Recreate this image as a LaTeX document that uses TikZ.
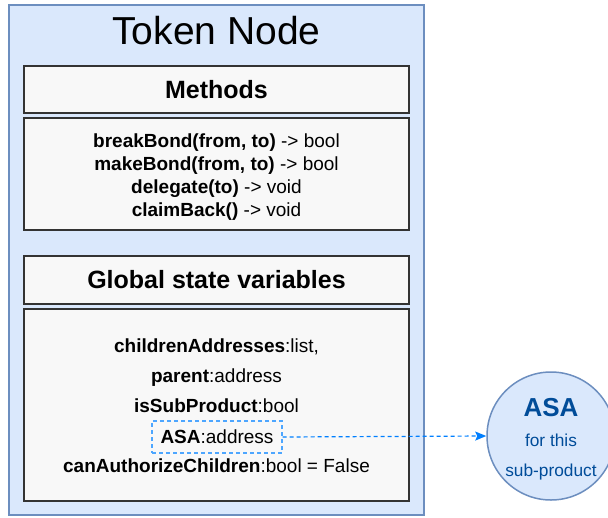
\documentclass[tikz,border=0pt]{standalone}
\usepackage{fontspec}
\setmainfont{Liberation Sans}
\usetikzlibrary{arrows.meta}
\definecolor{outerfill}{HTML}{DAE8FC}
\definecolor{outerdraw}{HTML}{6C8EBF}
\definecolor{boxfill}{HTML}{F8F8F8}
\definecolor{boxdraw}{HTML}{333333}
\definecolor{linkblue}{HTML}{007FFF}
\definecolor{dashblue}{HTML}{4DA6FF}
\definecolor{asatext}{HTML}{004C99}
\tikzset{
  outerbox/.style={draw=outerdraw, fill=outerfill, line width=1.5pt},
  innerbox/.style={draw=boxdraw, fill=boxfill, line width=1.5pt},
  bodytext/.style={anchor=base, font=\fontsize{19}{22}\selectfont, inner sep=0pt},
  headtext/.style={anchor=base, font=\fontsize{25}{28}\selectfont\bfseries, inner sep=0pt},
  linkline/.style={draw=linkblue, line width=1.2pt, dash pattern=on 4pt off 3pt},
}
\begin{document}
\begin{tikzpicture}[x=1pt, y=-1pt]
\useasboundingbox (0,0) rectangle (608,517);
\clip (0,0) rectangle (608,517);
% outer container
\draw[outerbox] (9,5) rectangle (424,515);
\node[anchor=base, inner sep=0pt, font=\fontsize{39}{44}\selectfont] (title) at (216.5,44) {Token Node};
% methods
\draw[innerbox] (24,66) rectangle (409,113);
\node[headtext] (methods) at (216.5,98) {Methods};
\draw[innerbox] (24,118) rectangle (409,230);
\node[bodytext] (m1) at (216.5,147) {\textbf{breakBond(from, to)} -> bool};
\node[bodytext] (m2) at (216.5,170) {\textbf{makeBond(from, to)} -> bool};
\node[bodytext] (m3) at (216.5,193) {\textbf{delegate(to)} -> void};
\node[bodytext] (m4) at (216.5,216) {\textbf{claimBack()} -> void};
% global state
\draw[innerbox] (24,256) rectangle (409,304);
\node[headtext] (global) at (216.5,288) {Global state variables};
\draw[innerbox] (24,309) rectangle (409,501);
\node[bodytext] (g1) at (216.5,352) {\textbf{childrenAddresses}:list,};
\node[bodytext] (g2) at (216.5,382) {\textbf{parent}:address};
\node[bodytext] (g3) at (216.5,412) {\textbf{isSubProduct}:bool};
\node[draw=dashblue, line width=1.2pt, dash pattern=on 4pt off 3pt, minimum width=130pt, minimum height=32pt, inner sep=0pt,
      font=\fontsize{19}{22}\selectfont] (asa) at (217,437) {\textbf{ASA}:address};
\node[bodytext] (g5) at (216.5,472) {\textbf{canAuthorizeChildren}:bool = False};
% ASA circle
\node[circle, draw=outerdraw, fill=outerfill, line width=1.5pt, minimum size=128pt, inner sep=0pt] (asac) at (551,436) {};
\node[anchor=base, inner sep=0pt, text=asatext, font=\fontsize{26}{30}\selectfont\bfseries] (asat) at (551,416) {ASA};
\node[anchor=base, inner sep=0pt, text=asatext, font=\fontsize{17.3}{20}\selectfont] (asaf) at (551,446) {for this};
\node[anchor=base, inner sep=0pt, text=asatext, font=\fontsize{17.3}{20}\selectfont] (asas) at (551,476) {sub-product};
% connector
\draw[linkline, -{Stealth[length=11pt, width=9pt, inset=2pt]}] (asa.east) -- (asac.west);
\end{tikzpicture}
\end{document}
